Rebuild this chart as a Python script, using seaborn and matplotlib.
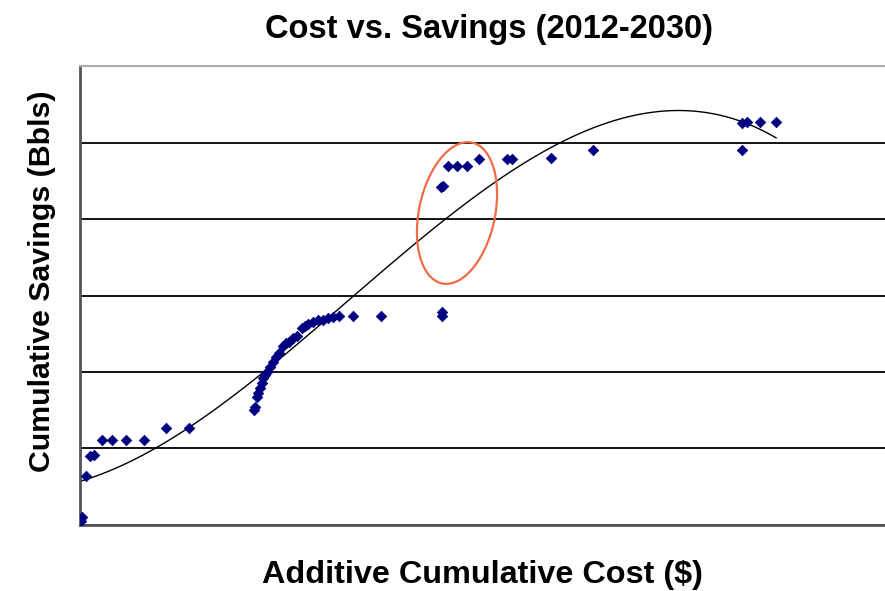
"""
Cost vs. Savings scatter with cubic trend line.
"""

import numpy as np
import pandas as pd
import matplotlib.pyplot as plt
import seaborn as sns


# additive cumulative cost (relative units, axis 0-100)
cost = [
    0.0, 0.25, 0.1, 0.75, 1.24, 1.74, 2.73, 3.98, 5.71, 7.95,
    10.68, 13.54, 21.6, 21.7, 22.0, 22.1, 22.4, 22.6, 22.7, 23.0,
    23.2, 23.6, 24.0, 24.3, 24.7, 25.2, 25.6, 26.0, 26.5, 27.0,
    27.6, 28.0, 28.3, 28.9, 29.6, 30.2, 30.8, 31.4, 32.2, 33.9,
    37.4, 45.0, 45.0, 44.8, 45.1, 45.7, 46.8, 48.1, 49.6, 53.0,
    53.7, 58.5, 63.7, 82.2, 82.9, 82.2, 84.5, 86.5,
]

# cumulative savings (relative units, one gridline per unit)
savings = [
    0.08, 0.10, 0.05, 0.64, 0.90, 0.92, 1.11, 1.11, 1.11, 1.11,
    1.27, 1.27, 1.50, 1.54, 1.67, 1.73, 1.79, 1.86, 1.92, 1.96,
    2.00, 2.07, 2.13, 2.20, 2.25, 2.34, 2.38, 2.39, 2.44, 2.47,
    2.58, 2.60, 2.63, 2.65, 2.68, 2.68, 2.71, 2.72, 2.73, 2.73,
    2.73, 2.78, 2.73, 4.42, 4.43, 4.69, 4.69, 4.69, 4.78, 4.78,
    4.78, 4.80, 4.90, 5.25, 5.27, 4.90, 5.27, 5.27,
]

y_ticks = [0, 1, 2, 3, 4, 5, 6]


def build_frame():

    df = pd.DataFrame({"cost": cost, "savings": savings})

    return df


def plot_chart(df):

    sns.set_style("white")
    plt.rcParams["font.family"] = ["Liberation Sans", "DejaVu Sans"]
    plt.rcParams["text.color"] = "black"
    plt.rcParams["axes.labelcolor"] = "black"

    fig = plt.figure(figsize=(8.85, 5.91), dpi=100)
    ax = fig.add_axes([0.0904, 0.1117, 0.9096, 0.7766])

    ax.set_xlim(0, 100)
    ax.set_ylim(0, 6)
    ax.set_yticks(y_ticks)
    ax.set_xticks([])
    ax.tick_params(left=False, labelleft=False)
    ax.yaxis.grid(True, color="black", linewidth=1.3)
    ax.set_axisbelow(True)

    # cubic trend line like the spreadsheet trendline
    sns.regplot(
        data=df, x="cost", y="savings", order=3, ci=None,
        scatter=False, truncate=True, ax=ax,
        line_kws={"color": "black", "linewidth": 1.0},
    )

    sns.scatterplot(
        data=df, x="cost", y="savings", ax=ax,
        marker="D", s=28, color="#000080", edgecolor="#000080",
        linewidth=0.6, zorder=4,
    )

    # highlight ellipse (drawn in pixel space, then mapped to data)
    t = np.linspace(0, 2 * np.pi, 200)
    cx, cy, a, b = 457, 213, 72, 38
    th = np.deg2rad(12)
    px = cx + b * np.cos(t) * np.cos(th) + a * np.sin(t) * np.sin(th)
    py = cy + a * np.sin(t) * np.cos(th) * -1 + b * np.cos(t) * np.sin(th)
    ax.plot((px - 80) / 8.05, (525 - py) / 76.5,
            color="#F26B47", linewidth=1.6, zorder=5)

    for side in ["left", "bottom"]:
        ax.spines[side].set_color("#555555")
        ax.spines[side].set_linewidth(2)
    ax.spines["top"].set_color("#aaaaaa")
    ax.spines["top"].set_linewidth(1.5)
    ax.spines["right"].set_visible(False)

    ax.set_title("Cost vs. Savings (2012-2030)",
                 fontsize=23.5, fontweight="bold", pad=20, x=0.508)
    ax.set_xlabel("Additive Cumulative Cost ($)",
                  fontsize=23.3, fontweight="bold", labelpad=25)
    ax.set_ylabel("Cumulative Savings (Bbls)",
                  fontsize=21.8, fontweight="bold")
    ax.yaxis.set_label_coords(-0.030, 0.532)

    fig.savefig("out.png", dpi=100)
    plt.close(fig)


if __name__ == "__main__":

    data = build_frame()

    plot_chart(data)
